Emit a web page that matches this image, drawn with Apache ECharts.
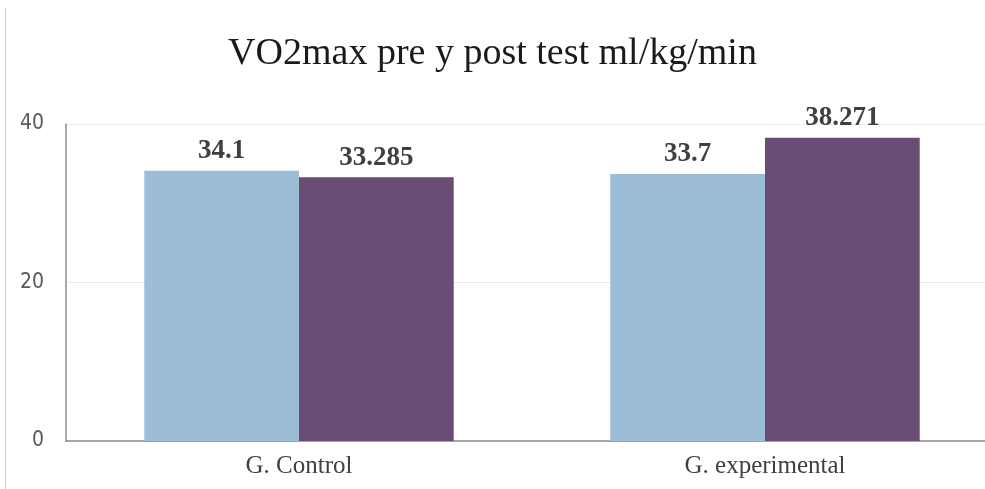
<!DOCTYPE html>
<html>
	<head>
		<meta charset="utf-8">
		<title>VO2max</title>
		<script src="https://cdn.jsdelivr.net/npm/echarts@6/dist/echarts.min.js"></script>
	</head>
	<body style="margin:0;background:#fff">
		<div id="res" style="width: 985px;height: 489px;"></div>
		<script>
			var categories = ['G. Control', 'G. experimental'];
			var preValues = [34.1, 33.7];
			var postValues = [33.285, 38.271];
			var preLabels = ['34.1', '33.7'];
			var postLabels = ['33.285', '38.271'];

			var myChart = echarts.init(document.getElementById('res'));
			var labelStyle = {
				show: true,
				position: 'top',
				distance: 6,
				fontFamily: 'Liberation Serif',
				fontWeight: 'bold',
				fontSize: 27,
				color: '#404040'
			};
			var option = {
				animation: false,
				title: {
					text: 'VO2max pre y post test ml/kg/min',
					left: 'center',
					top: 30,
					textStyle: {
						fontFamily: 'Liberation Serif',
						fontWeight: 'normal',
						fontSize: 38,
						color: '#1a1a1a'
					}
				},
				graphic: [{
					type: 'line',
					shape: { x1: 5.5, y1: 8, x2: 5.5, y2: 489 },
					style: { stroke: '#c8c8c8', lineWidth: 1 }
				}],
				grid: {
					left: 66,
					width: 932,
					top: 124,
					bottom: 48,
					outerBoundsMode: 'none'
				},
				xAxis: {
					type: 'category',
					data: categories,
					axisTick: { show: false },
					axisLine: { lineStyle: { color: '#8c8c8c', width: 1.5 } },
					axisLabel: {
						margin: 13,
						fontFamily: 'Liberation Serif',
						fontSize: 25,
						color: '#404040'
					}
				},
				yAxis: {
					type: 'value',
					min: 0,
					max: 40,
					interval: 20,
					axisLine: { show: true, lineStyle: { color: '#8c8c8c', width: 1.5 } },
					axisTick: { show: false },
					splitLine: { lineStyle: { color: '#ebebeb' } },
					axisLabel: {
						margin: 22,
						fontFamily: 'Liberation Sans Narrow, DejaVu Sans Condensed, sans-serif',
						fontSize: 21,
						color: '#595959'
					}
				},
				series: [{
					name: 'pre',
					type: 'bar',
					data: preValues,
					barGap: '0%',
					barCategoryGap: '33.6%',
					itemStyle: { color: '#9bbdd6' },
					label: Object.assign({}, labelStyle, {
						formatter: function(p) { return preLabels[p.dataIndex]; }
					})
				}, {
					name: 'post',
					type: 'bar',
					data: postValues,
					itemStyle: { color: '#694d75' },
					label: Object.assign({}, labelStyle, {
						formatter: function(p) { return postLabels[p.dataIndex]; }
					})
				}]
			};
			myChart.setOption(option);
		</script>
	</body>
</html>
